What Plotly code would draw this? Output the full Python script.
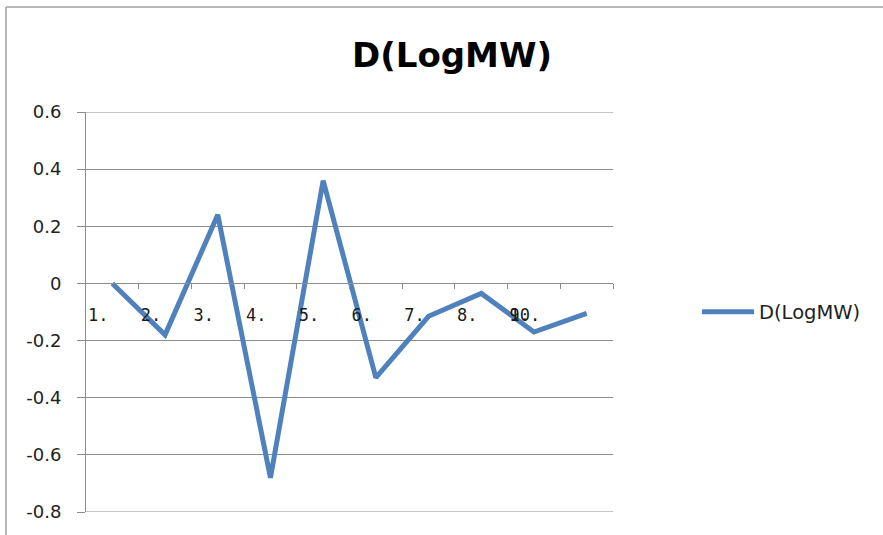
import plotly.graph_objects as go

# Series and axis text
categories = ["1.", "2.", "3.", "4.", "5.", "6.", "7.", "8.", "9.", "10."]
d_logmw = [0.0, -0.18, 0.24, -0.68, 0.36, -0.33, -0.115, -0.035, -0.17, -0.105]
y_ticks = [0.6, 0.4, 0.2, 0, -0.2, -0.4, -0.6, -0.8]
series_name = "D(LogMW)"

W, H = 883, 535
ML, MR, MT, MB = 86, 270, 112, 23
plot_w = W - ML - MR
plot_h = H - MT - MB

n = len(categories)
x_pos = list(range(1, n + 1))
x_range = [0.5, n + 0.5]
px_per_unit = plot_w / (x_range[1] - x_range[0])

GRAY = "#8c8c8c"
BLUE = "#4f81bd"
MONO_SIZE = 17
char_w = 0.602 * MONO_SIZE

# Category labels sit left-aligned in their slot; the last label crowds
# into the previous slot, as the axis runs out of room.
label_vals = []
for i, lab in enumerate(categories):
    slot = min(i, n - 2)
    left = x_range[0] + slot + 2 / px_per_unit
    label_vals.append(left + len(lab) * char_w / 2 / px_per_unit)

y_min, y_max = min(y_ticks), max(y_ticks)
zero_frac = (0 - y_min) / (y_max - y_min)

fig = go.Figure()
fig.add_trace(go.Scatter(
    x=x_pos, y=d_logmw, mode="lines", name=series_name,
    line=dict(color=BLUE, width=5),
))

fig.update_layout(
    width=W, height=H,
    margin=dict(l=ML, r=MR, t=MT, b=MB, autoexpand=False),
    paper_bgcolor="white", plot_bgcolor="white",
    title=dict(
        text="<b>D(LogMW)</b>", xref="container", yref="container",
        x=452 / W, y=1 - 55 / H, xanchor="center", yanchor="middle",
        font=dict(family="DejaVu Sans", size=34, color="black"),
    ),
    showlegend=True,
    legend=dict(
        x=(697 - ML) / plot_w, y=0.5, xanchor="left", yanchor="middle",
        font=dict(family="DejaVu Sans", size=19.5, color="#222"),
        itemwidth=52, bgcolor="rgba(0,0,0,0)",
    ),
    xaxis=dict(
        range=x_range, anchor="free", position=zero_frac,
        showgrid=False, zeroline=False,
        showline=True, linecolor=GRAY, linewidth=1,
        tickmode="array", tickvals=label_vals, ticktext=categories,
        ticks="", tickangle=0, ticklabelstandoff=16,
        tickfont=dict(family="DejaVu Sans Mono", size=MONO_SIZE, color="#1a1a1a"),
        minor=dict(
            tickmode="array", tickvals=[v + 0.5 for v in x_pos],
            ticks="outside", ticklen=5, tickcolor=GRAY, tickwidth=1,
            showgrid=False,
        ),
        fixedrange=True,
    ),
    yaxis=dict(
        range=[y_min, y_max], domain=[0, 1],
        tickmode="array", tickvals=y_ticks,
        ticktext=[f"{v:g}" for v in y_ticks],
        showgrid=True, gridcolor=GRAY, gridwidth=1,
        zeroline=False,
        showline=True, linecolor=GRAY, linewidth=1,
        ticks="outside", ticklen=8, tickcolor=GRAY, tickwidth=1,
        ticklabelstandoff=12,
        tickfont=dict(family="DejaVu Sans", size=18, color="#222"),
        fixedrange=True,
    ),
)

# Gridlines at both ends of the value range
for v in (y_min, y_max):
    fig.add_shape(type="line", xref="paper", yref="y", x0=0, x1=1, y0=v, y1=v,
                  line=dict(color=GRAY, width=1), layer="below")

# Chart-area frame (top and left edges are in view)
fx0 = (6 - ML) / plot_w
fy1 = (H - MB - 7) / plot_h
fig.add_shape(type="line", xref="paper", yref="paper",
              x0=fx0, x1=(W + 10 - ML) / plot_w, y0=fy1, y1=fy1,
              line=dict(color="#a0a0a0", width=1.5))
fig.add_shape(type="line", xref="paper", yref="paper",
              x0=fx0, x1=fx0, y0=fy1, y1=-0.2,
              line=dict(color="#a0a0a0", width=1.5))

fig.write_html("out.html")
